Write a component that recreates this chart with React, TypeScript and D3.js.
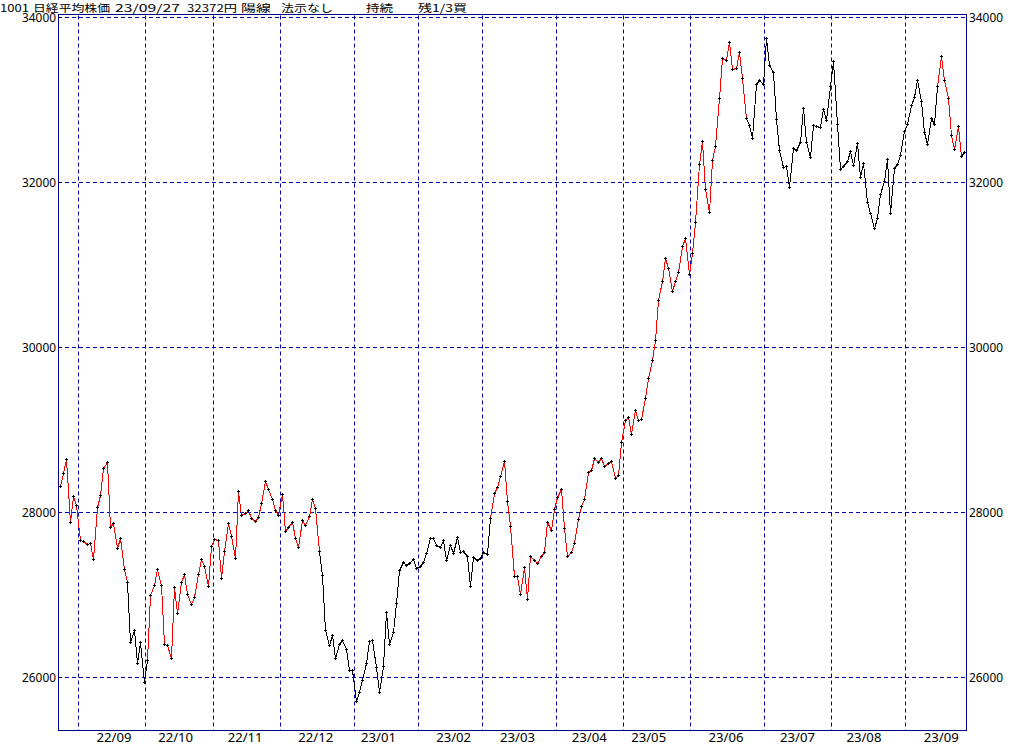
import React from 'react';
import * as d3 from 'd3';

// ---- data ----
const firstDay = '2022-08-24';
const lastDay = '2023-09-27';
const marketHolidays = [
  '2022-09-19', '2022-09-23', '2022-10-10', '2022-11-03', '2022-11-23',
  '2023-01-02', '2023-01-03', '2023-01-09', '2023-02-23', '2023-03-21',
  '2023-05-03', '2023-05-04', '2023-05-05', '2023-07-17', '2023-08-11', '2023-09-18',
];

const close2208 = [28313, 28479, 28641, 27878, 28195, 28091];
const close2209 = [27661, 27650, 27619, 27626, 27430, 28065, 28214, 28542, 28614, 27818, 27875, 27567, 27688, 27313, 27153, 26431, 26571, 26173, 26422, 25937];
const close2210 = [26215, 26992, 27120, 27311, 27116, 26401, 26396, 26237, 27090, 26775, 27156, 27257, 27006, 26890, 26974, 27250, 27431, 27345, 27105, 27587];
const close2211 = [27678, 27663, 27199, 27527, 27872, 27716, 27446, 28263, 27963, 27990, 28028, 27930, 27899, 27944, 28115, 28383, 28283, 28162, 28027, 27968];
const close2212 = [28226, 27777, 27820, 27885, 27686, 27574, 27901, 27842, 27954, 28156, 28051, 27527, 27237, 26568, 26387, 26507, 26235, 26405, 26447, 26340, 26093, 26094];
const close2301 = [25716, 25820, 25973, 26175, 26446, 26449, 26119, 25822, 26138, 26791, 26405, 26553, 26906, 27299, 27395, 27362, 27382, 27433, 27327];
const close2302 = [27346, 27402, 27509, 27693, 27685, 27606, 27584, 27670, 27427, 27602, 27501, 27696, 27513, 27531, 27473, 27104, 27453, 27423, 27445];
const close2303 = [27516, 27498, 27927, 28237, 28309, 28444, 28623, 28143, 27832, 27222, 27229, 27010, 27333, 26945, 27466, 27419, 27385, 27476, 27518, 27883, 27782, 28041];
const close2304 = [28188, 28287, 27813, 27472, 27518, 27633, 27923, 28082, 28157, 28493, 28514, 28658, 28606, 28657, 28564, 28593, 28620, 28416, 28457, 28856];
const close2305 = [29123, 29158, 28949, 29242, 29122, 29126, 29388, 29626, 29842, 30093, 30573, 30808, 31086, 30957, 30682, 30801, 30916, 31233, 31328, 30887];
const close2306 = [31148, 31524, 32217, 32506, 31913, 31641, 32265, 32434, 33018, 33502, 33485, 33706, 33370, 33388, 33575, 33264, 32781, 32698, 32538, 33193, 33234, 33189];
const close2307 = [33753, 33422, 33338, 32773, 32388, 32189, 32203, 31943, 32419, 32391, 32493, 32896, 32490, 32304, 32700, 32682, 32668, 32891, 32759, 33172];
const close2308 = [33476, 32707, 32159, 32193, 32254, 32377, 32204, 32473, 32059, 32238, 31766, 31626, 31450, 31565, 31856, 32010, 32287, 31624, 32169, 32227, 32333, 32619];
const close2309 = [32710, 32939, 33036, 33241, 32991, 32607, 32467, 32776, 32706, 33168, 33533, 33242, 33023, 32571, 32402, 32679, 32315, 32372];

const closes = [
  ...close2208, ...close2209, ...close2210, ...close2211, ...close2212,
  ...close2301, ...close2302, ...close2303, ...close2304, ...close2305,
  ...close2306, ...close2307, ...close2308, ...close2309,
];

// signal state runs (陽 = red line, 陰 = black line), in trading days
const signalRuns: [string, number][] = [
  ['陽', 20], ['陰', 6], ['陽', 51], ['陰', 51], ['陽', 76], ['陰', 57], ['陽', 7], ['陰', 2],
];

const monthLabels = ['22/09', '22/10', '22/11', '22/12', '23/01', '23/02', '23/03', '23/04', '23/05', '23/06', '23/07', '23/08', '23/09'];
const yTicks = [26000, 28000, 30000, 32000, 34000];
const titleParts = ['1001', '日経平均株価', '23/09/27', '32372円', '陽線', '法示なし', '持続', '残1/3買'];

// ---- component ----
export default function App() {
  const W = 1024, H = 745;
  const left = 58, right = 966, top = 14.5, bottom = 730;
  const font = '"Noto Sans CJK JP", "Noto Sans", sans-serif';
  const numFont = '"Noto Sans", "DejaVu Sans", sans-serif';
  const gridColor = '#0000b0';
  const frameColor = '#000080';

  const parse = d3.timeParse('%Y-%m-%d');
  const fmt = d3.timeFormat('%Y-%m-%d');
  const hol = new Set(marketHolidays);
  const dates = d3.timeDay
    .range(parse(firstDay)!, d3.timeDay.offset(parse(lastDay)!, 1))
    .filter((d) => d.getDay() !== 0 && d.getDay() !== 6 && !hol.has(fmt(d)));

  const n = closes.length;
  const x = d3.scaleLinear().domain([0, n]).range([left, right]);
  const y = d3.scaleLinear().domain([26000, 34000]).range([677.3, 17.3]);
  const px = (i: number) => x(i + 0.5);

  // month starts
  const monthStarts: number[] = [];
  for (let i = 1; i < dates.length; i++) {
    if (dates[i].getMonth() !== dates[i - 1].getMonth()) monthStarts.push(i);
  }
  const labelPos = monthStarts.map((s) => {
    const d0 = dates[s];
    const target = new Date(d0.getFullYear(), d0.getMonth(), 15);
    let k = s;
    while (k + 1 < dates.length && dates[k + 1] <= target) k++;
    if (+dates[k] === +target || k + 1 >= dates.length) return k;
    const frac = (+target - +dates[k]) / (+dates[k + 1] - +dates[k]);
    return k + frac;
  });

  // state per point
  const state: string[] = [];
  signalRuns.forEach(([s, c]) => { for (let j = 0; j < c; j++) state.push(s); });
  const runs: { s: string; a: number; b: number }[] = [];
  let a = 0;
  for (let i = 1; i <= n; i++) {
    if (i === n || state[i] !== state[a]) {
      runs.push({ s: state[a], a, b: Math.min(i, n - 1) });
      a = i;
    }
  }
  const line = d3.line<number>()
    .x((i) => Math.round(px(i)) + 0.5)
    .y((i) => Math.round(y(closes[i])) + 0.5);

  const titleLayout = [[0, 29], [33, 77], [115, 65], [187, 50], [241, 30], [281, 52], [366, 27], [418, 49]];

  return (
    <svg width={W} height={H} style={{ position: 'absolute', left: 0, top: 0, background: '#fff' }}
      xmlns="http://www.w3.org/2000/svg">
      <rect x={0} y={0} width={W} height={H} fill="#fff" />
      {/* title */}
      {titleParts.map((t, i) => (
        <text key={'t' + i} x={titleLayout[i][0]} y={12.3} fontFamily={font} fontSize={10.5}
          textLength={titleLayout[i][1]} lengthAdjust="spacingAndGlyphs" fill="#000">{t}</text>
      ))}
      {/* horizontal grid */}
      {yTicks.map((v) => (
        <line key={'h' + v} x1={left} x2={right} y1={Math.round(y(v)) + 0.5} y2={Math.round(y(v)) + 0.5}
          stroke={gridColor} strokeWidth={1} strokeDasharray="4,3" />
      ))}
      {/* vertical grid */}
      {monthStarts.map((s) => (
        <line key={'v' + s} x1={Math.round(x(s)) + 0.5} x2={Math.round(x(s)) + 0.5} y1={top + 1} y2={bottom}
          stroke={gridColor} strokeWidth={1} strokeDasharray="4,3" />
      ))}
      {/* y labels */}
      {yTicks.map((v) => (
        <g key={'yl' + v}>
          <text x={56} y={Math.round(y(v)) + 5} textAnchor="end" fontFamily={numFont} fontSize={12.5}
            textLength={34} lengthAdjust="spacingAndGlyphs" fill="#000">{v}</text>
          <text x={969} y={Math.round(y(v)) + 5} fontFamily={numFont} fontSize={12.5}
            textLength={34} lengthAdjust="spacingAndGlyphs" fill="#000">{v}</text>
        </g>
      ))}
      {/* x labels */}
      {labelPos.map((p, i) => (
        <text key={'xl' + i} x={px(p) - 17} y={742} fontFamily={numFont} fontSize={12.5}
          textLength={35} lengthAdjust="spacingAndGlyphs" fill="#000">{monthLabels[i]}</text>
      ))}
      {/* data line */}
      {runs.map((r, i) => (
        <path key={'r' + i} d={line(d3.range(r.a, r.b + 1)) || ''} fill="none"
          stroke={r.s === '陽' ? '#ff0000' : '#000000'} strokeWidth={1} shapeRendering="crispEdges" />
      ))}
      {/* markers */}
      {closes.map((v, i) => {
        const cx = Math.round(px(i));
        const cy = Math.round(y(v));
        return (
          <g key={'m' + i} fill="#000" shapeRendering="crispEdges">
            <rect x={cx - 1} y={cy} width={3} height={1} />
            <rect x={cx} y={cy - 1} width={1} height={3} />
          </g>
        );
      })}
      {/* frame */}
      <rect x={left + 0.5} y={top} width={right - left} height={bottom - top} fill="none"
        stroke={frameColor} strokeWidth={1} shapeRendering="crispEdges" />
    </svg>
  );
}
